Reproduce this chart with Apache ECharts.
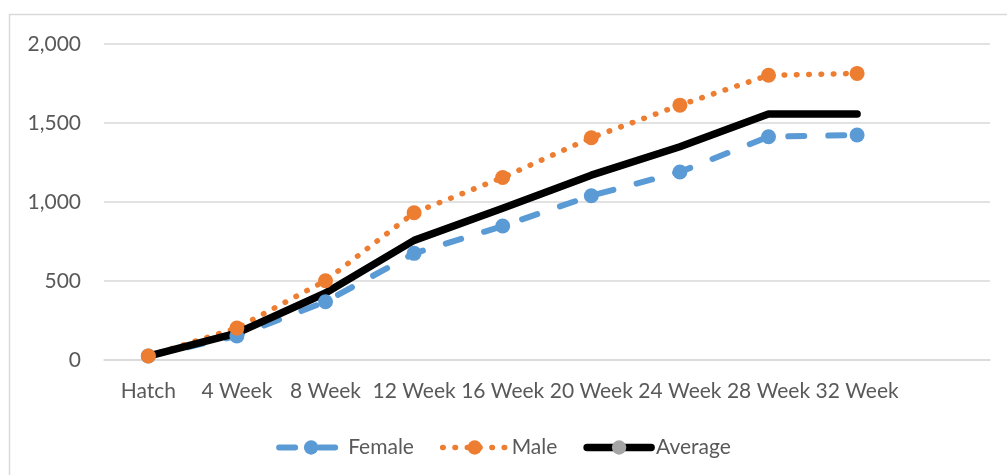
<!DOCTYPE html>
<html>
<head>
<meta charset="utf-8">
<script src="https://cdn.jsdelivr.net/npm/echarts@6/dist/echarts.min.js"></script>
<style>
  html, body { margin: 0; padding: 0; background: #fff; }
  #chart { width: 1007px; height: 475px; }
</style>
</head>
<body>
<div id="chart"></div>
<script>
const categories = ['Hatch', '4 Week', '8 Week', '12 Week', '16 Week', '20 Week', '24 Week', '28 Week', '32 Week', ''];
const female = [25, 152, 369, 675, 848, 1040, 1190, 1413, 1424];
const male = [25, 202, 502, 932, 1155, 1407, 1613, 1802, 1814];
const average = [25, 170, 424, 757, 960, 1170, 1350, 1557, 1557];

const font = 'Lato';
const textColor = '#595959';

const chart = echarts.init(document.getElementById('chart'));

const option = {
  animation: false,
  textStyle: { fontFamily: font },
  graphic: [
    {
      type: 'rect',
      shape: { x: 9.5, y: 14.5, width: 1100, height: 600 },
      style: { fill: 'none', stroke: '#d9d9d9', lineWidth: 1.5 },
      silent: true,
    },
  ],
  grid: { left: 104, right: 17, top: 44, bottom: 115 },
  legend: {
    left: 'center',
    top: 432,
    itemWidth: 64,
    itemHeight: 18,
    itemGap: 26,
    textStyle: { color: textColor, fontSize: 21, fontFamily: font },
    data: [
      { name: 'Female', lineStyle: { width: 6 } },
      { name: 'Male', lineStyle: { width: 5.5 } },
      { name: 'Average', lineStyle: { width: 7.5 } },
    ],
  },
  xAxis: {
    type: 'category',
    data: categories,
    boundaryGap: true,
    axisLine: { lineStyle: { color: '#d9d9d9', width: 1.5 } },
    axisTick: { show: false },
    axisLabel: { color: textColor, fontSize: 21, margin: 21, interval: 0 },
  },
  yAxis: {
    type: 'value',
    min: 0,
    max: 2000,
    interval: 500,
    axisLine: { show: false },
    axisTick: { show: false },
    axisLabel: { color: textColor, fontSize: 21, margin: 23 },
    splitLine: { lineStyle: { color: '#d9d9d9', width: 1.5 } },
  },
  series: [
    {
      name: 'Female',
      type: 'line',
      data: female,
      symbol: 'circle',
      symbolSize: 15,
      itemStyle: { color: '#5b9bd5' },
      lineStyle: { color: '#5b9bd5', width: 6, type: [16, 24], cap: 'round' },
    },
    {
      name: 'Male',
      type: 'line',
      data: male,
      symbol: 'circle',
      symbolSize: 15,
      itemStyle: { color: '#ed7d31' },
      lineStyle: { color: '#ed7d31', width: 5.5, type: [0.5, 11.8], cap: 'round' },
    },
    {
      name: 'Average',
      type: 'line',
      data: average,
      symbol: 'circle',
      symbolSize: 15,
      showSymbol: false,
      itemStyle: { color: '#a5a5a5' },
      lineStyle: { color: '#000000', width: 7.5, cap: 'round', join: 'round' },
    },
  ],
};

chart.setOption(option);
</script>
</body>
</html>
